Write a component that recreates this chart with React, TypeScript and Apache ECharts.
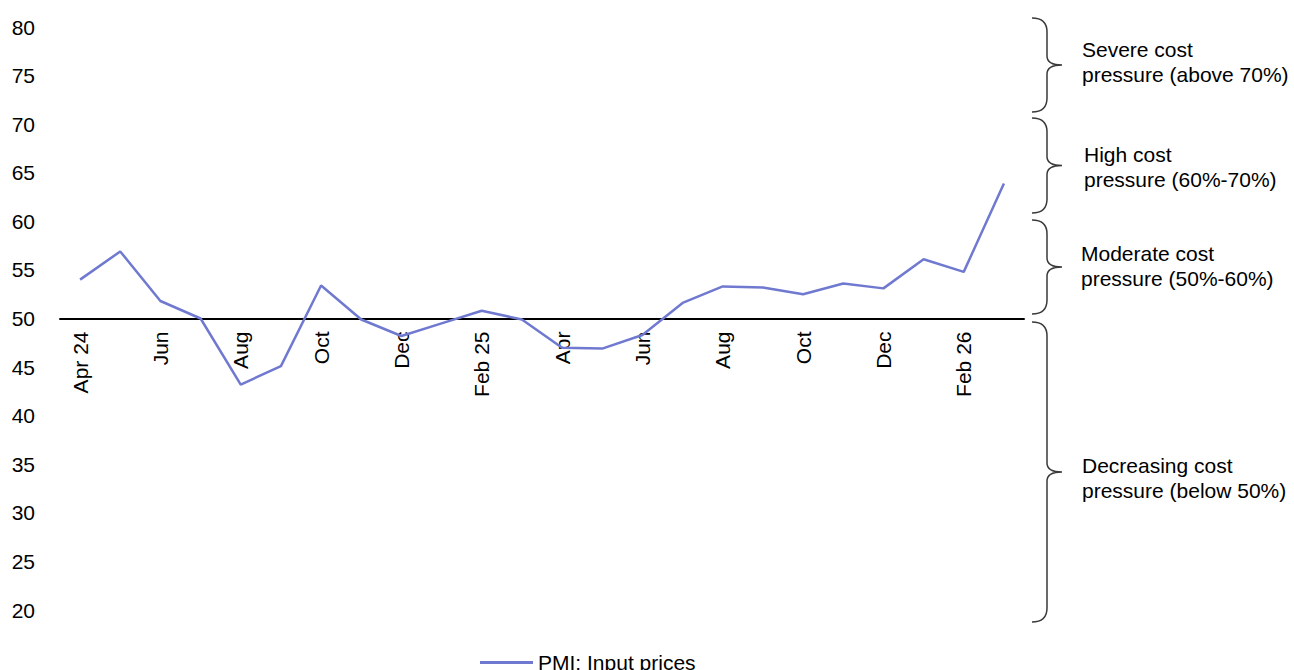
import React, { useEffect, useRef } from "react";
import * as echarts from "echarts";

// Monthly categories, Apr 2024 to Mar 2026 (labels shown every second month)
const months = [
  "Apr 24", "May", "Jun", "Jul", "Aug", "Sep", "Oct", "Nov", "Dec", "Jan 25",
  "Feb 25", "Mar", "Apr", "May", "Jun", "Jul", "Aug", "Sep", "Oct", "Nov",
  "Dec", "Jan 26", "Feb 26", "Mar 26",
];

// PMI: Input prices index
const inputPrices = [
  54.0, 56.9, 51.8, 50.0, 43.2, 45.1, 53.4, 49.9, 48.2, 49.5,
  50.8, 49.9, 47.0, 46.9, 48.3, 51.6, 53.3, 53.2, 52.5, 53.6,
  53.1, 56.1, 54.8, 63.9,
];

const seriesName = "PMI: Input prices";
const yMin = 20;
const yMax = 80;
const yStep = 5;
const baseline = 50;

// Cost-pressure bands shown with braces on the right
const bandLabels = [
  "Severe cost\npressure (above 70%)",
  "High cost\npressure (60%-70%)",
  "Moderate cost\npressure (50%-60%)",
  "Decreasing cost\npressure (below 50%)",
];

const FONT = "'Liberation Sans', Arial, Helvetica, sans-serif";
const LINE_COLOR = "#7079D0";

function bracePath(x: number, y1: number, y2: number, w: number, r: number, h: number) {
  const xm = x + w / 2;
  const mid = (y1 + y2) / 2;
  return [
    `M ${x} ${y1}`,
    `Q ${xm} ${y1} ${xm} ${y1 + r}`,
    `L ${xm} ${mid - h}`,
    `Q ${xm} ${mid} ${x + w} ${mid}`,
    `Q ${xm} ${mid} ${xm} ${mid + h}`,
    `L ${xm} ${y2 - r}`,
    `Q ${xm} ${y2} ${x} ${y2}`,
  ].join(" ");
}

// Brace geometry (annotation layout) and text placement
const braces = [
  { y1: 18, y2: 112, tx: 1082, ty: 62 },
  { y1: 118, y2: 213, tx: 1084, ty: 167 },
  { y1: 220, y2: 314, tx: 1081, ty: 266 },
  { y1: 322, y2: 622, tx: 1082, ty: 478 },
];

braces.forEach((b, i) => {
  echarts.graphic.registerShape(
    "brace" + i,
    echarts.graphic.extendPath(bracePath(1032, b.y1, b.y2, 30, 14, 9), {}) as any
  );
});

export default function App() {
  const ref = useRef<HTMLDivElement>(null);

  useEffect(() => {
    if (!ref.current) return;
    const chart = echarts.init(ref.current, undefined, { renderer: "svg" });

    const gridTop = 27;
    const gridBottom = 60;
    const gridHeight = 670 - gridTop - gridBottom;
    const axisOffset = -((baseline - yMin) / (yMax - yMin)) * gridHeight;

    const graphics: any[] = [];
    braces.forEach((b, i) => {
      graphics.push({
        type: "brace" + i,
        silent: true,
        style: { stroke: "#3a3a3a", fill: "none", lineWidth: 1.5 },
      });
      graphics.push({
        type: "text",
        silent: true,
        style: {
          text: bandLabels[i],
          x: b.tx,
          y: b.ty,
          fill: "#000",
          font: `21px ${FONT}`,
          lineHeight: 25.5,
          verticalAlign: "middle",
          align: "left",
        },
      });
    });

    chart.setOption({
      animation: false,
      backgroundColor: "#fff",
      grid: { left: 60, right: 270, top: gridTop, bottom: gridBottom },
      legend: {
        data: [seriesName],
        left: 480,
        top: 652,
        padding: 0,
        icon: "path://M0,0 H53 V3 H0 Z",
        itemWidth: 53,
        itemHeight: 21,
        textStyle: { fontSize: 21, color: "#000", fontFamily: FONT },
      },
      xAxis: {
        type: "category",
        data: months,
        boundaryGap: true,
        position: "bottom",
        offset: axisOffset,
        axisLine: { show: true, onZero: false, lineStyle: { color: "#000", width: 2 } },
        axisTick: { show: false },
        splitLine: { show: false },
        axisLabel: {
          interval: 1,
          rotate: 90,
          margin: 13,
          fontSize: 21,
          color: "#000",
          fontFamily: FONT,
        },
      },
      yAxis: {
        type: "value",
        min: yMin,
        max: yMax,
        interval: yStep,
        axisLine: { show: false },
        axisTick: { show: false },
        splitLine: { show: false },
        axisLabel: { fontSize: 21, color: "#000", margin: 25, fontFamily: FONT },
      },
      series: [
        {
          name: seriesName,
          type: "line",
          data: inputPrices,
          symbol: "none",
          lineStyle: { color: LINE_COLOR, width: 2.5 },
          itemStyle: { color: LINE_COLOR },
          z: 3,
        },
      ],
      graphic: graphics,
    });

    return () => chart.dispose();
  }, []);

  return (
    <div
      ref={ref}
      style={{ position: "absolute", left: 0, top: 0, width: 1294, height: 670 }}
    />
  );
}
